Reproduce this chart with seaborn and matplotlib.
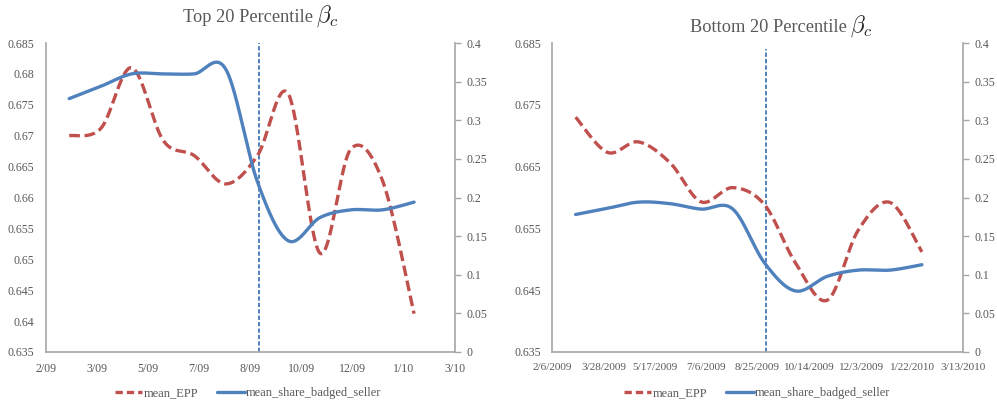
import numpy as np
import pandas as pd
import matplotlib
matplotlib.use("Agg")
import matplotlib.pyplot as plt
import matplotlib.dates as mdates
from matplotlib.lines import Line2D
import seaborn as sns

# ---------------- data ----------------
months = ["2009-03-01", "2009-04-01", "2009-05-01", "2009-06-01", "2009-07-01", "2009-08-01",
          "2009-09-01", "2009-10-01", "2009-11-01", "2009-12-01", "2010-01-01", "2010-02-01"]

top_mean_epp = [0.6700, 0.6712, 0.6810, 0.6692, 0.6668, 0.6622,
                0.6668, 0.6768, 0.6510, 0.6678, 0.6628, 0.6412]
top_mean_badged = [0.328, 0.344, 0.360, 0.360, 0.360, 0.366,
                   0.220, 0.144, 0.174, 0.184, 0.184, 0.194]

bot_mean_epp = [0.6730, 0.6673, 0.6690, 0.6656, 0.6593, 0.6616,
                0.6588, 0.6494, 0.6434, 0.6547, 0.6592, 0.6512]
bot_mean_badged = [0.178, 0.186, 0.194, 0.192, 0.185, 0.185,
                   0.115, 0.079, 0.098, 0.106, 0.106, 0.113]

event_date = "2009-09-02"

xtick_dates = ["2009-02-06", "2009-03-28", "2009-05-17", "2009-07-06", "2009-08-25",
               "2009-10-14", "2009-12-03", "2010-01-22", "2010-03-13"]
top_xlabels = ["2/09", "3/09", "5/09", "7/09", "8/09", "10/09", "12/09", "1/10", "3/10"]
bot_xlabels = ["2/6/2009", "3/28/2009", "5/17/2009", "7/6/2009", "8/25/2009",
               "10/14/2009", "12/3/2009", "1/22/2010", "3/13/2010"]

top_left_ticks = [0.635, 0.64, 0.645, 0.65, 0.655, 0.66, 0.665, 0.67, 0.675, 0.68, 0.685]
top_left_labels = ["0.635", "0.64", "0.645", "0.65", "0.655", "0.66", "0.665", "0.67",
                   "0.675", "0.68", "0.685"]
bot_left_ticks = [0.635, 0.645, 0.655, 0.665, 0.675, 0.685]
bot_left_labels = ["0.635", "0.645", "0.655", "0.665", "0.675", "0.685"]
right_ticks = [0, 0.05, 0.1, 0.15, 0.2, 0.25, 0.3, 0.35, 0.4]
right_labels = ["0", "0.05", "0.1", "0.15", "0.2", "0.25", "0.3", "0.35", "0.4"]

title_texts = ["Top 20 Percentile", "Bottom 20 Percentile"]
title_math = "$\\beta_c$"
series_names = ["mean_EPP", "mean_share_badged_seller"]

# ---------------- style ----------------
sns.set_theme(style="white")
plt.rcParams["font.family"] = ["Liberation Serif", "DejaVu Serif"]
plt.rcParams["mathtext.fontset"] = "cm"

RED = "#C0504D"
BLUE = "#4F81BD"
GRAY_TXT = "#595959"
SPINE = "#A6A6A6"


def smooth(x, y, n=40):
    """Excel-like smoothed line: cubic Bezier segments with Catmull-Rom tangents."""
    x = np.asarray(x, float)
    y = np.asarray(y, float)
    px = np.concatenate([[x[0]], x, [x[-1]]])
    py = np.concatenate([[y[0]], y, [y[-1]]])
    xs, ys = [], []
    m = len(x)
    for i in range(m - 1):
        p0 = np.array([px[i], py[i]])
        p1 = np.array([px[i + 1], py[i + 1]])
        p2 = np.array([px[i + 2], py[i + 2]])
        p3 = np.array([px[i + 3], py[i + 3]])
        c1 = p1 + (p2 - p0) / 6.0
        c2 = p2 - (p3 - p1) / 6.0
        t = np.linspace(0, 1, n, endpoint=(i == m - 2))[:, None]
        pts = ((1 - t) ** 3) * p1 + 3 * ((1 - t) ** 2) * t * c1 + 3 * (1 - t) * t ** 2 * c2 + t ** 3 * p2
        xs.append(pts[:, 0])
        ys.append(pts[:, 1])
    return np.concatenate(xs), np.concatenate(ys)


xnum = mdates.date2num(pd.to_datetime(months))
xt = mdates.date2num(pd.to_datetime(xtick_dates))
ev = mdates.date2num(pd.to_datetime(event_date))

fig = plt.figure(figsize=(9.97, 4.07), dpi=100)

panels = [
    dict(rect=[45.7 / 997, 55 / 407, 409.3 / 997, 309 / 407], epp=top_mean_epp, bad=top_mean_badged,
         lt=top_left_ticks, ll=top_left_labels, xl=top_xlabels, xls=8.6, title=title_texts[0],
         tx=313 / 997, ty=1 - 22 / 407, lpos=(248 / 997, 1 - 393 / 407), vtop=1.0),
    dict(rect=[552 / 997, 55 / 407, 411 / 997, 309 / 407], epp=bot_mean_epp, bad=bot_mean_badged,
         lt=bot_left_ticks, ll=bot_left_labels, xl=bot_xlabels, xls=8.1, title=title_texts[1],
         tx=847 / 997, ty=1 - 32 / 407, lpos=(757 / 997, 1 - 393 / 407), vtop=0.98),
]

for p in panels:
    ax = fig.add_axes(p["rect"])
    ax2 = ax.twinx()

    sx, sy = smooth(xnum, p["epp"])
    sns.lineplot(x=sx, y=sy, ax=ax, color=RED, lw=2.4, sort=False, estimator=None)
    ax.lines[-1].set_dashes((3.2, 1.4))
    ax.lines[-1].set_dash_capstyle("butt")

    bx, by = smooth(xnum, p["bad"])
    sns.lineplot(x=bx, y=by, ax=ax2, color=BLUE, lw=2.4, sort=False, estimator=None)
    ax2.lines[-1].set_solid_capstyle("round")

    ax.axvline(ev, ymin=0, ymax=p["vtop"], color=BLUE, lw=1.4, linestyle=(0, (2.2, 1.1)), zorder=1)

    ax.set_xlim(xt[0], xt[-1])
    ax.set_ylim(0.635, 0.685)
    ax2.set_ylim(0, 0.4)

    ax.set_xticks(xt)
    ax.set_xticklabels(p["xl"])
    ax.set_yticks(p["lt"])
    ax.set_yticklabels(p["ll"])
    ax2.set_yticks(right_ticks)
    ax2.set_yticklabels(right_labels)

    ax.tick_params(axis="x", length=0, pad=8, labelsize=p["xls"], labelcolor=GRAY_TXT)
    ax.tick_params(axis="y", length=0, pad=8, labelsize=8.6, labelcolor=GRAY_TXT)
    ax2.tick_params(axis="y", length=4, width=1, color=SPINE, pad=4, labelsize=8.6,
                    labelcolor=GRAY_TXT, direction="out")

    for a in (ax, ax2):
        a.grid(False)
        a.set_xlabel("")
        a.set_ylabel("")
        a.spines["top"].set_visible(False)
        if a.get_legend() is not None:
            a.get_legend().remove()
    ax.spines["right"].set_visible(False)
    ax2.spines["left"].set_visible(False)
    ax2.spines["bottom"].set_visible(False)
    for s in ("left", "bottom"):
        ax.spines[s].set_color(SPINE)
        ax.spines[s].set_linewidth(1.2)
    ax2.spines["right"].set_color(SPINE)
    ax2.spines["right"].set_linewidth(1.2)
    ax.patch.set_alpha(0)

    fig.text(p["tx"], p["ty"], p["title"], ha="right", va="baseline",
             fontsize=13.2, color=GRAY_TXT)
    fig.text(p["tx"] + 3 / 997, p["ty"], title_math, ha="left", va="baseline",
             fontsize=17, color="#262626")

    handles = [Line2D([], [], color=RED, lw=2.4, dashes=(2.2, 1.2)),
               Line2D([], [], color=BLUE, lw=2.4)]
    fig.legend(handles, series_names, loc="center", bbox_to_anchor=p["lpos"], ncol=2,
               frameon=False, fontsize=9, handlelength=2.2, handletextpad=0.1,
               columnspacing=1.5, labelcolor=GRAY_TXT)

fig.savefig("out.png", dpi=100)
